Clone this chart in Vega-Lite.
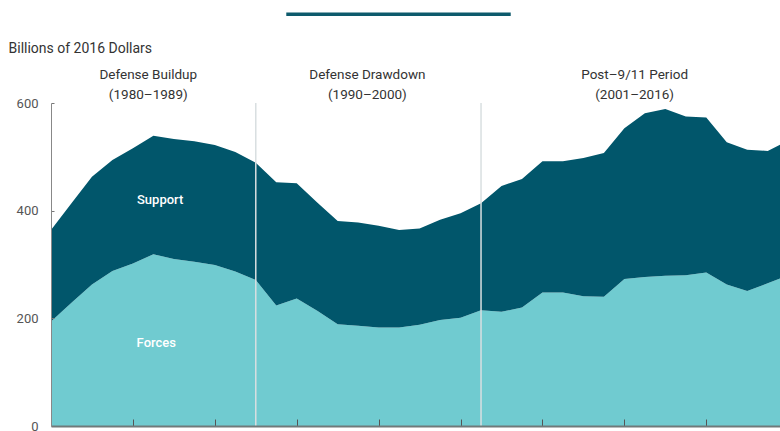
{
  "$schema": "https://vega.github.io/schema/vega-lite/v6.json",
  "width": 729,
  "height": 323,
  "autosize": {"type": "none"},
  "padding": {"left": 51, "top": 103, "right": 0, "bottom": 5},
  "config": {
    "view": {"stroke": null},
    "font": "Roboto",
    "axis": {"grid": false}
  },
  "datasets": {
    "spend": [
      {"year": 1980, "category": "Forces", "value": 194}, {"year": 1980, "category": "Support", "value": 170},
      {"year": 1981, "category": "Forces", "value": 229}, {"year": 1981, "category": "Support", "value": 185},
      {"year": 1982, "category": "Forces", "value": 263}, {"year": 1982, "category": "Support", "value": 200},
      {"year": 1983, "category": "Forces", "value": 288}, {"year": 1983, "category": "Support", "value": 206},
      {"year": 1984, "category": "Forces", "value": 302}, {"year": 1984, "category": "Support", "value": 214},
      {"year": 1985, "category": "Forces", "value": 319}, {"year": 1985, "category": "Support", "value": 220},
      {"year": 1986, "category": "Forces", "value": 310}, {"year": 1986, "category": "Support", "value": 223},
      {"year": 1987, "category": "Forces", "value": 305}, {"year": 1987, "category": "Support", "value": 224},
      {"year": 1988, "category": "Forces", "value": 299}, {"year": 1988, "category": "Support", "value": 223},
      {"year": 1989, "category": "Forces", "value": 287}, {"year": 1989, "category": "Support", "value": 222},
      {"year": 1990, "category": "Forces", "value": 271}, {"year": 1990, "category": "Support", "value": 218},
      {"year": 1991, "category": "Forces", "value": 224}, {"year": 1991, "category": "Support", "value": 229},
      {"year": 1992, "category": "Forces", "value": 237}, {"year": 1992, "category": "Support", "value": 214},
      {"year": 1993, "category": "Forces", "value": 214}, {"year": 1993, "category": "Support", "value": 201},
      {"year": 1994, "category": "Forces", "value": 189}, {"year": 1994, "category": "Support", "value": 192},
      {"year": 1995, "category": "Forces", "value": 186}, {"year": 1995, "category": "Support", "value": 192},
      {"year": 1996, "category": "Forces", "value": 183}, {"year": 1996, "category": "Support", "value": 189},
      {"year": 1997, "category": "Forces", "value": 183}, {"year": 1997, "category": "Support", "value": 181},
      {"year": 1998, "category": "Forces", "value": 188}, {"year": 1998, "category": "Support", "value": 179},
      {"year": 1999, "category": "Forces", "value": 197}, {"year": 1999, "category": "Support", "value": 186},
      {"year": 2000, "category": "Forces", "value": 201}, {"year": 2000, "category": "Support", "value": 194},
      {"year": 2001, "category": "Forces", "value": 215}, {"year": 2001, "category": "Support", "value": 199},
      {"year": 2002, "category": "Forces", "value": 212}, {"year": 2002, "category": "Support", "value": 234},
      {"year": 2003, "category": "Forces", "value": 220}, {"year": 2003, "category": "Support", "value": 239},
      {"year": 2004, "category": "Forces", "value": 248}, {"year": 2004, "category": "Support", "value": 244},
      {"year": 2005, "category": "Forces", "value": 248}, {"year": 2005, "category": "Support", "value": 244},
      {"year": 2006, "category": "Forces", "value": 241}, {"year": 2006, "category": "Support", "value": 257},
      {"year": 2007, "category": "Forces", "value": 240}, {"year": 2007, "category": "Support", "value": 267},
      {"year": 2008, "category": "Forces", "value": 273}, {"year": 2008, "category": "Support", "value": 280},
      {"year": 2009, "category": "Forces", "value": 277}, {"year": 2009, "category": "Support", "value": 304},
      {"year": 2010, "category": "Forces", "value": 279}, {"year": 2010, "category": "Support", "value": 310},
      {"year": 2011, "category": "Forces", "value": 280}, {"year": 2011, "category": "Support", "value": 295},
      {"year": 2012, "category": "Forces", "value": 285}, {"year": 2012, "category": "Support", "value": 288},
      {"year": 2013, "category": "Forces", "value": 263}, {"year": 2013, "category": "Support", "value": 264},
      {"year": 2014, "category": "Forces", "value": 251}, {"year": 2014, "category": "Support", "value": 262},
      {"year": 2015, "category": "Forces", "value": 265}, {"year": 2015, "category": "Support", "value": 246},
      {"year": 2016, "category": "Forces", "value": 280}, {"year": 2016, "category": "Support", "value": 250}
    ],
    "periods": [
      {"year": 1984.75, "value": 652, "label": "Defense Buildup\n(1980–1989)"},
      {"year": 1995.45, "value": 652, "label": "Defense Drawdown\n(1990–2000)"},
      {"year": 2008.5, "value": 652, "label": "Post–9/11 Period\n(2001–2016)"}
    ],
    "dividers": [{"year": 1990}, {"year": 2001}],
    "areaLabels": [
      {"year": 1985.33, "value": 420, "label": "Support"},
      {"year": 1985.14, "value": 154, "label": "Forces"}
    ],
    "topBar": [{"year": 1991.49, "year2": 2002.45, "value": 765}]
  },
  "layer": [
    {
      "data": {"name": "spend"},
      "mark": {"type": "area", "interpolate": "linear", "clip": true},
      "encoding": {
        "x": {
          "field": "year", "type": "quantitative",
          "scale": {"domain": [1980, 2015.6], "nice": false, "zero": false},
          "axis": {
            "title": null, "labels": false, "zindex": 1,
            "values": [1984, 1988, 1992, 1996, 2000, 2004, 2008, 2012],
            "tickSize": -7, "tickColor": "#555555", "tickWidth": 1,
            "domainColor": "#6f7a7a", "domainWidth": 2
          }
        },
        "y": {
          "field": "value", "type": "quantitative", "stack": "zero",
          "scale": {"domain": [0, 600], "nice": false},
          "axis": {
            "values": [0, 200, 400, 600], "zindex": 1,
            "title": "Billions of 2016 Dollars",
            "titleAngle": 0, "titleAlign": "left", "titleBaseline": "middle",
            "titleX": -43, "titleY": -55, "titleFontSize": 14, "titleFontWeight": "normal",
            "titleColor": "#333333",
            "tickSize": -3, "tickColor": "#777777", "labelPadding": 16,
            "labelFontSize": 13, "labelColor": "#555555",
            "domainColor": "#888888", "domainWidth": 1
          }
        },
        "color": {
          "field": "category", "type": "nominal",
          "scale": {"domain": ["Forces", "Support"], "range": ["#70cbd0", "#01566b"]},
          "legend": null
        },
        "order": {"field": "category", "sort": "ascending"}
      }
    },
    {
      "data": {"name": "dividers"},
      "mark": {"type": "rule", "color": "#d9dfe1", "strokeWidth": 1.5},
      "encoding": {
        "x": {"field": "year", "type": "quantitative"},
        "y": {"datum": 600},
        "y2": {"datum": 0}
      }
    },
    {
      "data": {"name": "periods"},
      "mark": {"type": "text", "lineBreak": "\n", "lineHeight": 20, "fontSize": 13.5, "color": "#333333", "align": "center", "baseline": "middle", "clip": false},
      "encoding": {
        "x": {"field": "year", "type": "quantitative"},
        "y": {"field": "value", "type": "quantitative"},
        "text": {"field": "label"}
      }
    },
    {
      "data": {"name": "areaLabels"},
      "mark": {"type": "text", "fontSize": 13, "fontWeight": 500, "color": "#ffffff", "align": "center", "baseline": "middle"},
      "encoding": {
        "x": {"field": "year", "type": "quantitative"},
        "y": {"field": "value", "type": "quantitative"},
        "text": {"field": "label"}
      }
    },
    {
      "data": {"name": "topBar"},
      "mark": {"type": "rule", "color": "#0d5a6c", "strokeWidth": 3.5, "clip": false},
      "encoding": {
        "x": {"field": "year", "type": "quantitative"},
        "x2": {"field": "year2"},
        "y": {"field": "value", "type": "quantitative"}
      }
    }
  ]
}
